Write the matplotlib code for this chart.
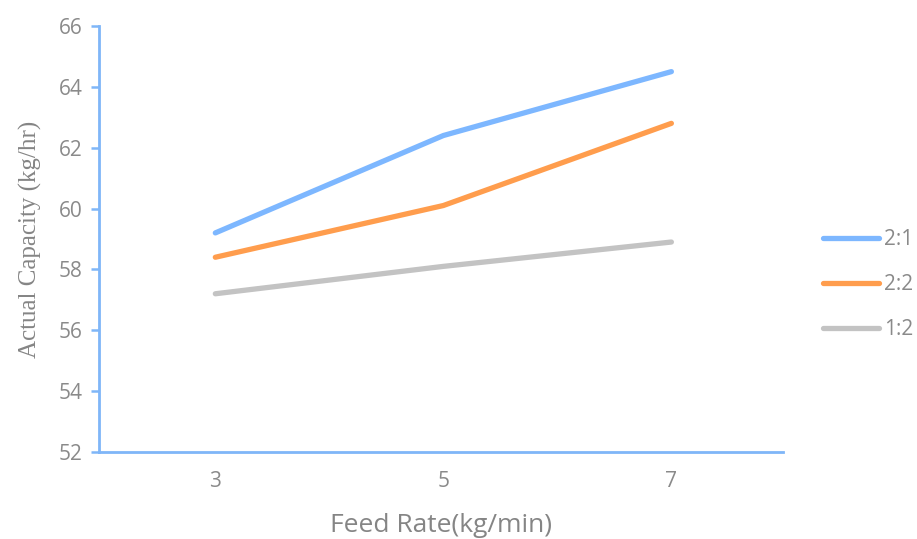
import numpy as np
import matplotlib
matplotlib.use("Agg")
import matplotlib.pyplot as plt

categories = ["3", "5", "7"]
series_names = ["2:1", "2:2", "1:2"]
ratio_2_1 = [59.2, 62.4, 64.5]
ratio_2_2 = [58.4, 60.1, 62.8]
ratio_1_2 = [57.2, 58.1, 58.9]
colors = ["#7db7ff", "#ff9d4d", "#c3c3c3"]
y_ticks = [52, 54, 56, 58, 60, 62, 64, 66]

fig = plt.figure(figsize=(9.17, 5.39), dpi=100)
ax = fig.add_axes([0.108, 0.1614, 0.746, 0.7904])

x = np.arange(len(categories))
for name, vals, c in zip(series_names, [ratio_2_1, ratio_2_2, ratio_1_2], colors):
    ax.plot(x, vals, color=c, lw=3.8, solid_capstyle="round",
            solid_joinstyle="round", label=name)

ax.set_xlim(-0.51, 2.49)
ax.set_ylim(52, 66)
ax.set_xticks(x)
ax.set_xticklabels(categories)
ax.set_yticks(y_ticks)

spine_c = "#7fb6f8"
for s in ["top", "right"]:
    ax.spines[s].set_visible(False)
for s in ["left", "bottom"]:
    ax.spines[s].set_color(spine_c)
    ax.spines[s].set_linewidth(2.0)

sans = ["Open Sans", "DejaVu Sans"]
ax.tick_params(axis="y", direction="out", length=6, width=1.8, color=spine_c, pad=6)
ax.tick_params(axis="x", length=0, pad=14)
for lab in ax.get_xticklabels() + ax.get_yticklabels():
    lab.set_fontfamily(sans)
    lab.set_fontsize(15)
    lab.set_color("#8a8a8a")

ax.set_ylabel("Actual Capacity (kg/hr)", family=["Liberation Serif", "DejaVu Serif"],
              fontsize=18, color="#858585", labelpad=12)
ax.set_xlabel("Feed Rate(kg/min)", family=sans,
              fontsize=19, color="#858585", labelpad=15)

handles, labels = ax.get_legend_handles_labels()
leg = fig.legend(handles, labels, loc="center left", bbox_to_anchor=(0.897, 0.472),
                 frameon=False, borderpad=0, borderaxespad=0,
                 handlelength=2.7, handletextpad=0.25, labelspacing=1.15,
                 prop={"family": sans, "size": 15})
for t in leg.get_texts():
    t.set_color("#8a8a8a")

fig.savefig("out.png", dpi=100, facecolor="white")
